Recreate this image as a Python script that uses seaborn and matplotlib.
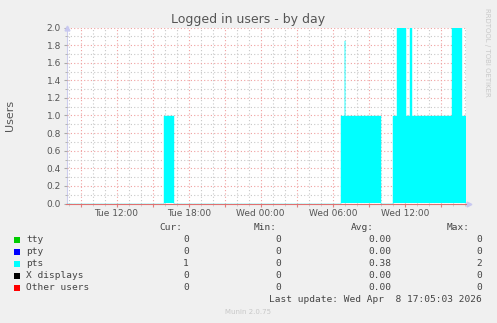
import matplotlib
matplotlib.use("Agg")
import matplotlib.pyplot as plt
import matplotlib.dates as mdates
import matplotlib.ticker as mticker
import pandas as pd
import seaborn as sns

# ---- data ----
change_times = ["2026-04-07 07:50", "2026-04-07 15:55", "2026-04-07 16:45",
                "2026-04-08 06:42", "2026-04-08 06:59", "2026-04-08 07:02",
                "2026-04-08 10:03", "2026-04-08 11:02", "2026-04-08 11:22",
                "2026-04-08 12:07", "2026-04-08 12:27", "2026-04-08 12:37",
                "2026-04-08 15:56", "2026-04-08 16:44", "2026-04-08 17:05"]
pts_values = [0, 1, 0, 1, 1.85, 1, 0, 1, 2, 1, 2, 1, 2, 1, 1]

legend_labels = ["tty", "pty", "pts", "X displays", "Other users"]
legend_colors = ["#00cc00", "#0000ff", "#00ffff", "#000000", "#ff0000"]
cur_vals = ["0", "0", "1", "0", "0"]
min_vals = ["0", "0", "0", "0", "0"]
avg_vals = ["0.00", "0.00", "0.38", "0.00", "0.00"]
max_vals = ["0", "0", "2", "0", "0"]

x_start = pd.Timestamp("2026-04-07 07:50")
x_end = pd.Timestamp("2026-04-08 17:05")

df = pd.DataFrame({"time": pd.to_datetime(change_times), "users": pts_values})

W, H = 497, 323
fig = plt.figure(figsize=(W / 100, H / 100), dpi=100, facecolor="#f0f0f0")
ax = fig.add_axes([66.5 / W, 1 - 203.5 / H, (466 - 66.5) / W, (203.5 - 27.5) / H])
ax.set_facecolor("white")

ax.fill_between(df["time"], 0, df["users"], step="post", color="#00ffff",
                linewidth=0, zorder=3)
sns.lineplot(data=df, x="time", y="users", drawstyle="steps-post", color="#00ffff",
             linewidth=0.3, ax=ax, zorder=3)

ax.set_xlim(x_start, x_end)
ax.set_ylim(0, 2.0)

# ticks / grid
ax.xaxis.set_major_locator(mdates.HourLocator(byhour=range(0, 24, 3)))
ax.xaxis.set_minor_locator(mdates.HourLocator())

def fmt(x, pos):
    d = mdates.num2date(x)
    if d.hour % 6 == 0:
        return d.strftime("%a %H:%M")
    return ""

ax.xaxis.set_major_formatter(mticker.FuncFormatter(fmt))
ax.yaxis.set_major_locator(mticker.MultipleLocator(0.2))
ax.yaxis.set_minor_locator(mticker.MultipleLocator(0.1))
ax.yaxis.set_major_formatter(mticker.FormatStrFormatter("%.1f"))

ax.grid(which="major", color="#f0a0a0", linestyle=(0, (1, 2)), linewidth=0.8, zorder=4)
ax.grid(which="minor", color="#c8c8c8", linestyle=(0, (1, 2)), linewidth=0.8, zorder=4)
ax.set_axisbelow(False)

ax.tick_params(axis="both", which="major", labelsize=6.5, labelcolor="#555555",
               length=2, width=0.8, pad=2)
ax.tick_params(axis="x", which="major", colors="#e08080", labelcolor="#555555")
ax.tick_params(axis="x", which="minor", length=1.5, colors="#c8c8c8")
ax.tick_params(axis="y", which="both", colors="#aaaaaa", labelcolor="#555555")
ax.tick_params(axis="y", which="minor", length=1.5)
ax.set_xlabel("")
ax.set_ylabel("")

for s in ["top", "right"]:
    ax.spines[s].set_visible(False)
ax.spines["left"].set_color("#ccccee")
ax.spines["left"].set_linewidth(0.8)
ax.spines["bottom"].set_color("#e07070")
ax.spines["bottom"].set_linewidth(0.8)
ax.spines["bottom"].set_zorder(6)

# axis arrows
ax.plot([0], [1.0], marker="^", markersize=3.5, color="#c8c8f0", transform=ax.transAxes,
        clip_on=False, zorder=6)
ax.plot([1.008], [0], marker=">", markersize=3.5, color="#c8c8f0", transform=ax.transAxes,
        clip_on=False, zorder=6)

# texts
fig.text(248 / W, 1 - 20 / H, "Logged in users - by day", ha="center", va="center",
         fontsize=9, color="#555555")
fig.text(10 / W, 1 - 115 / H, "Users", ha="center", va="center", rotation=90,
         fontsize=8, color="#555555")
fig.text(487 / W, 1 - 52 / H, "RRDTOOL / TOBI OETIKER", ha="center", va="center",
         rotation=270, fontsize=5, color="#c8c8c8")

mono = "DejaVu Sans Mono"
fs = 6.8
tc = "#444444"
hy = 227
fig.text(182 / W, 1 - hy / H, "Cur:", ha="right", va="center", family=mono, fontsize=fs, color=tc)
fig.text(277 / W, 1 - hy / H, "Min:", ha="right", va="center", family=mono, fontsize=fs, color=tc)
fig.text(374 / W, 1 - hy / H, "Avg:", ha="right", va="center", family=mono, fontsize=fs, color=tc)
fig.text(470 / W, 1 - hy / H, "Max:", ha="right", va="center", family=mono, fontsize=fs, color=tc)

rows_y = [240, 252, 264, 276, 288]
for i, lab in enumerate(legend_labels):
    y = 1 - rows_y[i] / H
    fig.patches.append(plt.Rectangle((14 / W, 1 - (rows_y[i] + 3) / H), 6 / W, 6 / H,
                                     transform=fig.transFigure, facecolor=legend_colors[i],
                                     edgecolor="none"))
    fig.text(26 / W, y, lab, ha="left", va="center", family=mono, fontsize=fs, color=tc)
    fig.text(189 / W, y, cur_vals[i], ha="right", va="center", family=mono, fontsize=fs, color=tc)
    fig.text(281 / W, y, min_vals[i], ha="right", va="center", family=mono, fontsize=fs, color=tc)
    fig.text(391 / W, y, avg_vals[i], ha="right", va="center", family=mono, fontsize=fs, color=tc)
    fig.text(482 / W, y, max_vals[i], ha="right", va="center", family=mono, fontsize=fs, color=tc)

fig.text(482 / W, 1 - 300 / H, "Last update: Wed Apr  8 17:05:03 2026", ha="right",
         va="center", family=mono, fontsize=fs, color=tc)
fig.text(248 / W, 1 - 312 / H, "Munin 2.0.75", ha="center", va="center",
         fontsize=5, color="#c8c8c8")

fig.savefig("out.png", dpi=100, facecolor=fig.get_facecolor())
